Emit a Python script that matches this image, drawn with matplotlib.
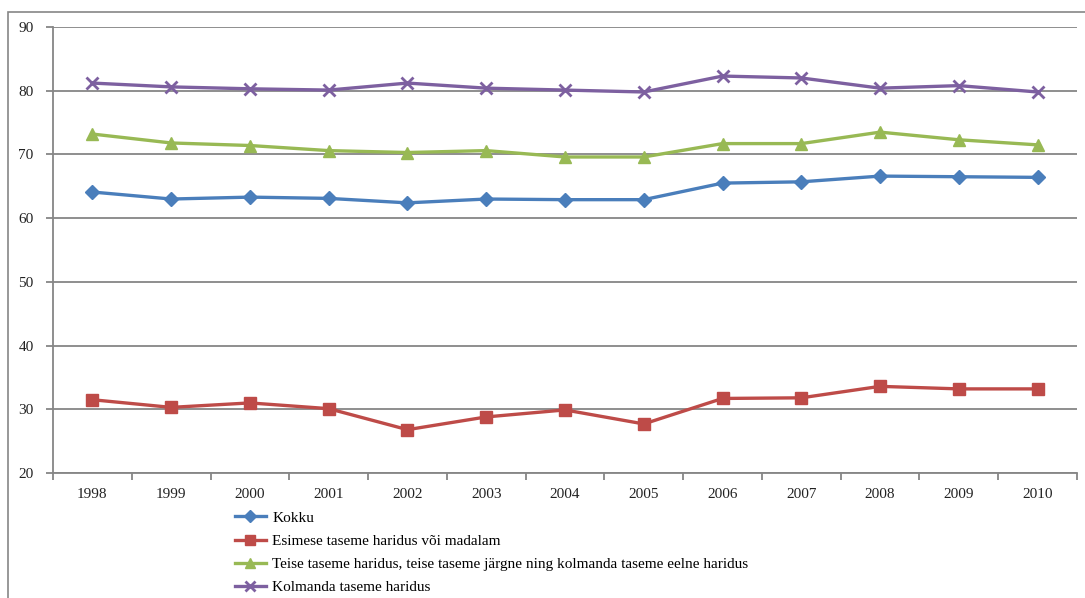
import matplotlib.pyplot as plt
from matplotlib.patches import Rectangle
from matplotlib.ticker import FixedLocator

years = ["1998", "1999", "2000", "2001", "2002", "2003", "2004",
         "2005", "2006", "2007", "2008", "2009", "2010"]
kokku = [64.1, 63.0, 63.3, 63.1, 62.4, 63.0, 62.9, 62.9, 65.5, 65.7, 66.6, 66.5, 66.4]
esimese = [31.5, 30.3, 31.0, 30.1, 26.8, 28.8, 29.9, 27.7, 31.7, 31.8, 33.6, 33.2, 33.2]
teise = [73.2, 71.8, 71.4, 70.6, 70.3, 70.6, 69.6, 69.6, 71.7, 71.7, 73.5, 72.3, 71.5]
kolmanda = [81.2, 80.6, 80.3, 80.1, 81.2, 80.4, 80.1, 79.8, 82.3, 82.0, 80.4, 80.8, 79.8]

labels = ["Kokku",
          "Esimese taseme haridus või madalam",
          "Teise taseme haridus, teise taseme järgne ning kolmanda taseme eelne haridus",
          "Kolmanda taseme haridus"]

plt.rcParams['font.family'] = ['Liberation Serif', 'DejaVu Serif']

fig = plt.figure(figsize=(10.85, 5.98), dpi=100)
# outer chart border
fig.patches.append(Rectangle((8 / 1085, -0.05), 1.1, 1 - 12 / 598 + 0.05,
                             transform=fig.transFigure, fill=False,
                             edgecolor="#868686", linewidth=1.2))

ax = fig.add_axes([53 / 1085, 125 / 598, 1024 / 1085, 446 / 598])
x = list(range(len(years)))

ax.plot(x, kokku, color="#4A7EBB", lw=2.4, marker="D", ms=7, label=labels[0])
ax.plot(x, esimese, color="#BE4B48", lw=2.4, marker="s", ms=8, label=labels[1])
ax.plot(x, teise, color="#98B954", lw=2.4, marker="^", ms=9, label=labels[2])
ax.plot(x, kolmanda, color="#7D60A0", lw=2.4, marker="x", ms=8, mew=2, label=labels[3])

ax.set_xlim(-0.5, len(years) - 0.5)
ax.set_ylim(20, 90)
ax.set_yticks(range(20, 91, 10))
ax.yaxis.grid(True, color="#868686", lw=1.3)
ax.set_axisbelow(True)

ax.set_xticks(x)
ax.set_xticklabels(years)
ax.xaxis.set_minor_locator(FixedLocator([i - 0.5 for i in range(len(years) + 1)]))
ax.tick_params(axis="x", which="major", length=0, pad=11, labelsize=11, colors="#222222")
ax.tick_params(axis="x", which="minor", length=5, width=1.3, color="#868686")
ax.tick_params(axis="y", length=5, width=1.3, color="#868686", labelsize=11,
               labelcolor="#222222", pad=9)

for s in ["top", "right"]:
    ax.spines[s].set_visible(False)
for s in ["left", "bottom"]:
    ax.spines[s].set_color("#868686")
    ax.spines[s].set_linewidth(1.3)

leg = fig.legend(loc="upper left", bbox_to_anchor=(235 / 1085, 1 - 511 / 598),
                 frameon=False, fontsize=11, handlelength=2.0, handletextpad=0.45,
                 labelspacing=0.62, borderpad=0, borderaxespad=0, markerscale=0.85)

fig.savefig("out.png", dpi=100)
